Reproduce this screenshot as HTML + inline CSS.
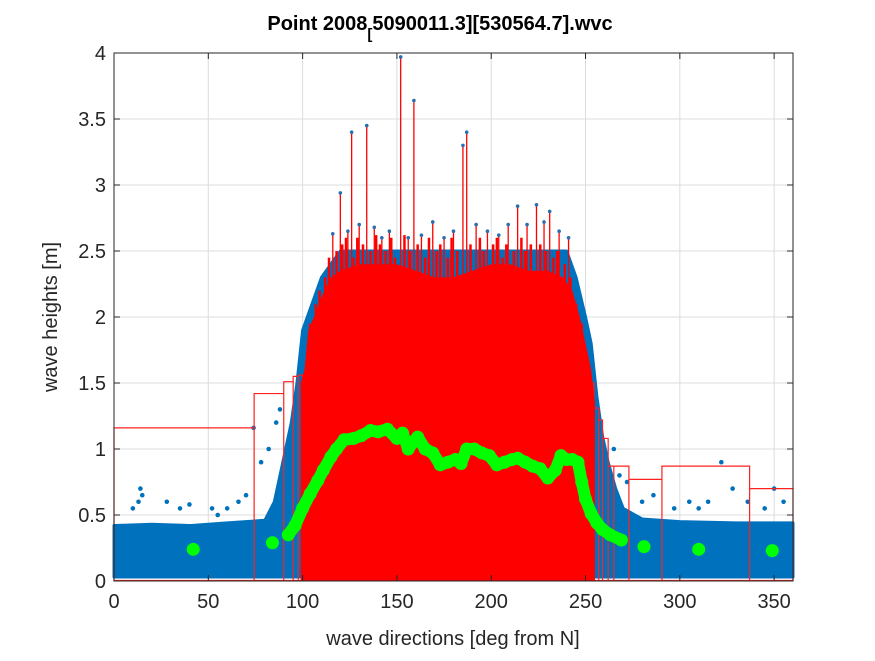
<!DOCTYPE html>
<html><head><meta charset="utf-8"><style>
body{margin:0;background:#fff;font-family:"Liberation Sans",sans-serif}
svg text{font-family:"Liberation Sans",sans-serif}
</style></head><body>
<svg id="chart" width="875" height="656" xmlns="http://www.w3.org/2000/svg">
<rect width="875" height="656" fill="#fff"/>
<g id="grid"></g>
<g id="blue"></g>
<g id="bins"></g>
<g id="red"></g>
<g id="green"></g>
<g id="axes"></g>
<text x="440" y="30" text-anchor="middle" font-size="20" font-weight="bold">Point 2008<tspan font-size="15" dy="9">[</tspan><tspan dy="-9">5090011.3][530564.7].wvc</tspan></text>
<text x="453" y="645" text-anchor="middle" font-size="20" fill="#262626">wave directions [deg from N]</text>
<text transform="translate(57,317) rotate(-90)" text-anchor="middle" font-size="20" fill="#262626">wave heights [m]</text>
</svg>
<script>
const xTicks=[0,50,100,150,200,250,300,350];
const yTicks=[0,0.5,1,1.5,2,2.5,3,3.5,4];
const blueEnvDir=[0,20,40,60,80,85,88,91,94,97,100,105,110,120,240,245,250,253,256,259,262,266,270,280,300,330,360];
const blueEnvH=[0.42,0.43,0.42,0.44,0.46,0.6,0.8,1.0,1.2,1.5,1.9,2.1,2.3,2.5,2.5,2.3,2.0,1.8,1.4,1.1,0.9,0.7,0.55,0.47,0.45,0.44,0.44];
const outDir=[10,13,14,15,28,35,40,52,55,60,66,70,74,78,82,86,88,265,268,272,280,286,297,305,310,315,322,328,336,345,350,355];
const outH=[0.55,0.6,0.7,0.65,0.6,0.55,0.58,0.55,0.5,0.55,0.6,0.65,1.16,0.9,1.0,1.2,1.3,1.0,0.8,0.75,0.6,0.65,0.55,0.6,0.55,0.6,0.9,0.7,0.6,0.55,0.7,0.6];
const redEnvDir=[99,101,103,106,110,115,120,130,140,150,160,170,180,190,200,210,220,230,238,243,247,250,253,255];
const redEnvH=[1.5,1.6,1.9,2.0,2.15,2.3,2.35,2.4,2.4,2.4,2.35,2.3,2.3,2.35,2.4,2.4,2.35,2.35,2.3,2.2,2.0,1.8,1.6,1.35];
const stemDir=[104,107,109,112,114,118,121,123,127,129,132,136,139,141,144,147,149,154,157,161,165,167,171,173,177,179,182,189,194,196,201,203,206,208,212,216,218,221,226,229,233,235,239,242,245,248,251];
const stemH=[1.95,2.1,2.2,2.3,2.45,2.5,2.55,2.6,2.45,2.6,2.55,2.5,2.62,2.55,2.5,2.6,2.45,2.62,2.5,2.55,2.45,2.6,2.5,2.55,2.45,2.6,2.5,2.55,2.6,2.5,2.55,2.6,2.45,2.55,2.5,2.6,2.5,2.55,2.55,2.5,2.45,2.5,2.4,2.3,2.1,1.95,1.7];
const spikeDir=[116,120,124,126,130,134,138,142,146,152,156,159,163,169,175,180,185,187,192,198,204,209,214,219,224,228,231,236,241];
const spikeH=[2.63,2.94,2.65,3.40,2.7,3.45,2.68,2.6,2.65,3.97,2.6,3.64,2.62,2.72,2.6,2.65,3.30,3.40,2.7,2.65,2.62,2.7,2.84,2.7,2.85,2.72,2.80,2.65,2.6];
const binEdges=[0,74.3,90,95,97.7,100,252.8,254.5,257,259,262,265,273,290.5,337,360];
const binH=[1.16,1.42,1.51,1.55,1.56,1.56,1.5,1.31,1.22,1.08,0.87,0.87,0.77,0.87,0.70];
const meanDir=[42,84,92.4,96,100,104,108,111,115,118,122,127,131,136,140,145,150,153,156,159,161,165,169,173,177,181,184,187,191,195,199,203,207,211,214,218,222,226,230,234,237,240,243,246,248,250,253,256,259,263,269,281,310,349];
const meanH=[0.24,0.29,0.35,0.42,0.55,0.66,0.76,0.84,0.94,1.0,1.07,1.08,1.1,1.14,1.13,1.15,1.08,1.12,1.0,1.06,1.09,1.0,0.97,0.88,0.9,0.92,0.89,1.0,1.0,0.97,0.95,0.88,0.9,0.92,0.93,0.9,0.87,0.85,0.78,0.84,0.95,0.92,0.92,0.9,0.75,0.62,0.51,0.44,0.39,0.35,0.31,0.26,0.24,0.23];
const NS="http://www.w3.org/2000/svg";
const X0=114,X1=793,Y0=581,Y1=53;
const sx=d=>X0+(d/360)*(X1-X0);
const sy=h=>Y0-(h/4)*(Y0-Y1);
function mk(tag,attrs,parent){const e=document.createElementNS(NS,tag);for(const k in attrs)e.setAttribute(k,attrs[k]);parent.appendChild(e);return e;}
const grid=document.getElementById('grid');
xTicks.forEach(t=>{const l=mk('line',{x1:sx(t),x2:sx(t),y1:Y1,y2:Y0,stroke:'#dcdcdc','stroke-width':1},grid);

});
yTicks.forEach(t=>{const l=mk('line',{x1:X0,x2:X1,y1:sy(t),y2:sy(t),stroke:'#dcdcdc','stroke-width':1},grid);

});
const blue=document.getElementById('blue');
let pts=[];blueEnvDir.forEach((d,i)=>pts.push(sx(d)+','+sy(blueEnvH[i])));
pts.push(sx(360)+','+sy(0.03));pts.push(sx(0)+','+sy(0.03));
const bp=mk('polygon',{points:pts.join(' '),fill:'#0072BD',stroke:'#0072BD','stroke-width':3,'stroke-linejoin':'round'},blue);


outDir.forEach((d,i)=>{const c=mk('circle',{cx:sx(d),cy:sy(outH[i]),r:2.3,fill:'#0072BD'},blue);

});
const bins=document.getElementById('bins');
let s='M'+sx(0)+','+sy(0);
binH.forEach((h,i)=>{s+=' L'+sx(binEdges[i])+','+sy(h)+' L'+sx(binEdges[i+1])+','+sy(h)+' L'+sx(binEdges[i+1])+','+sy(0)+' M'+sx(binEdges[i+1])+','+sy(h);});
const bpath=mk('path',{d:s,fill:'none',stroke:'#ff2020','stroke-width':1.2},bins);


const bl=mk('line',{x1:sx(0),x2:sx(360),y1:sy(0)-0.5,y2:sy(0)-0.5,stroke:'#ff2020','stroke-width':1.2},bins);


const red=document.getElementById('red');
let rp=[sx(redEnvDir[0])+','+sy(0)];redEnvDir.forEach((d,i)=>rp.push(sx(d)+','+sy(redEnvH[i])));rp.push(sx(redEnvDir[redEnvDir.length-1])+','+sy(0));
const rpol=mk('polygon',{points:rp.join(' '),fill:'#ff0000'},red);


stemDir.forEach((d,i)=>{const l=mk('line',{x1:sx(d),x2:sx(d),y1:sy(0),y2:sy(stemH[i]),stroke:'#ff0000','stroke-width':2.5},red);

});
spikeDir.forEach((d,i)=>{const l=mk('line',{x1:sx(d),x2:sx(d),y1:sy(0),y2:sy(spikeH[i]),stroke:'#ff0000','stroke-width':1.3},red);


const c=mk('circle',{cx:sx(d),cy:sy(spikeH[i]),r:1.8,fill:'#2a6fae'},red);

});
const green=document.getElementById('green');
let gp=[];meanDir.forEach((d,i)=>{if(d>=92&&d<=269)gp.push(sx(d)+','+sy(meanH[i]));});
const gl=mk('polyline',{points:gp.join(' '),fill:'none',stroke:'#00ff00','stroke-width':12,'stroke-linejoin':'round','stroke-linecap':'round'},green);


meanDir.forEach((d,i)=>{const c=mk('circle',{cx:sx(d),cy:sy(meanH[i]),r:6.5,fill:'#00ff00'},green);

});
const ax=document.getElementById('axes');
const fr=mk('rect',{x:X0,y:Y1,width:X1-X0,height:Y0-Y1,fill:'none',stroke:'#262626','stroke-width':1},ax);


xTicks.forEach(t=>{mk('line',{x1:sx(t),x2:sx(t),y1:Y0,y2:Y0-6,stroke:'#262626'},ax);mk('line',{x1:sx(t),x2:sx(t),y1:Y1,y2:Y1+6,stroke:'#262626'},ax);
const tx=mk('text',{x:sx(t),y:Y0+27,'text-anchor':'middle','font-size':20,fill:'#262626'},ax);tx.textContent=t;

});
yTicks.forEach(t=>{mk('line',{x1:X0,x2:X0+6,y1:sy(t),y2:sy(t),stroke:'#262626'},ax);mk('line',{x1:X1,x2:X1-6,y1:sy(t),y2:sy(t),stroke:'#262626'},ax);
const tx=mk('text',{x:X0-8,y:sy(t)+7,'text-anchor':'end','font-size':20,fill:'#262626'},ax);tx.textContent=t;

});
</script>
</body></html>
